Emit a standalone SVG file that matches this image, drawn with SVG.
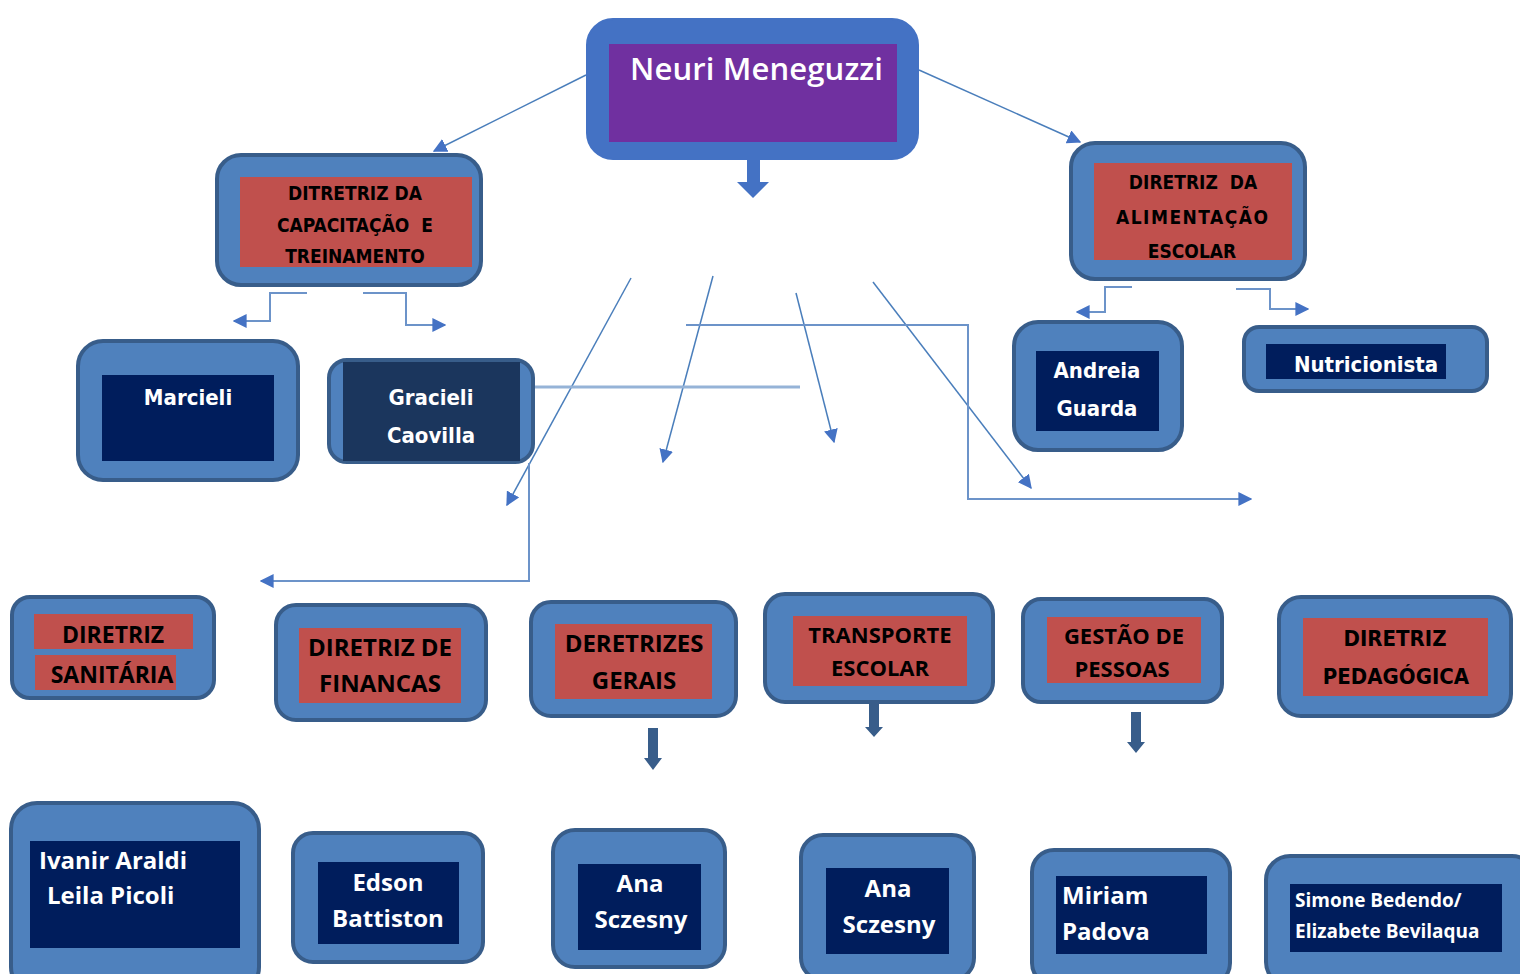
<svg xmlns="http://www.w3.org/2000/svg" width="1520" height="974" viewBox="0 0 1520 974">
<style>
.box{fill:#4f81bd;stroke:#385d8a;stroke-width:4}
.red{fill:#c0504d}
.navy{fill:#001d5c}
.ht{font-family:"DejaVu Sans Condensed","DejaVu Sans",sans-serif;font-weight:bold;fill:#000;text-anchor:middle}
.bt{font-family:"Open Sans","Noto Sans",sans-serif;font-weight:bold;fill:#000;text-anchor:middle}
.wt{font-family:"Open Sans","Noto Sans",sans-serif;font-weight:bold;fill:#fff}
.wc{font-family:"DejaVu Sans Condensed","DejaVu Sans",sans-serif;font-weight:bold;fill:#fff;text-anchor:middle}
.ln{fill:none;stroke:#4a7ebb;stroke-width:1.5}
.lt{fill:none;stroke:#95b3d7;stroke-width:3}
.lm{fill:none;stroke:#6c93c9;stroke-width:2}
</style>
<defs>
<marker id="ah2" viewBox="0 0 10 10" refX="9" refY="5" markerWidth="14" markerHeight="14" markerUnits="userSpaceOnUse" orient="auto">
<path d="M0,0 L10,5 L0,10 z" fill="#4472c4"/>
</marker>
</defs>

<g id="connectors">
<line class="ln" x1="586" y1="75" x2="434" y2="151" marker-end="url(#ah2)"/>
<line class="ln" x1="919" y1="70" x2="1080" y2="142" marker-end="url(#ah2)"/>
<path d="M747,160 H760 V182 H769 L753,198 L737,182 H747 Z" fill="#4472c4"/>
<polyline class="lm" points="307,293 270,293 270,321 234,321" marker-end="url(#ah2)"/>
<polyline class="lm" points="363,293 406,293 406,325 445,325" marker-end="url(#ah2)"/>
<polyline class="lm" points="1132,287 1105,287 1105,312 1077,312" marker-end="url(#ah2)"/>
<polyline class="lm" points="1236,289 1270,289 1270,309 1308,309" marker-end="url(#ah2)"/>
<line class="ln" x1="631" y1="278" x2="507" y2="505" marker-end="url(#ah2)"/>
<line class="ln" x1="713" y1="276" x2="663" y2="462" marker-end="url(#ah2)"/>
<line class="ln" x1="796" y1="293" x2="834" y2="442" marker-end="url(#ah2)"/>
<line class="ln" x1="873" y1="282" x2="1031" y2="488" marker-end="url(#ah2)"/>
<polyline class="lm" points="686,325 968,325 968,499 1251,499" marker-end="url(#ah2)"/>
<line class="lt" x1="534" y1="387" x2="800" y2="387"/>
<polyline class="lm" points="529,463 529,581 261,581" marker-end="url(#ah2)"/>
<path d="M648,728 H658 V758 H662 L653,770 L644,758 H648 Z" fill="#385d8a"/>
<path d="M869,697 H879 V727 H883 L874,737 L865,727 H869 Z" fill="#385d8a"/>
<path d="M1131,712 H1141 V742 H1145 L1136,753 L1127,742 H1131 Z" fill="#385d8a"/>
</g>

<g id="neuri">
<rect x="587" y="19" width="331" height="140" rx="26" fill="#4472c4" stroke="#4472c4" stroke-width="2"/>
<rect x="609" y="44" width="288" height="98" fill="#7030a0"/>
<text x="630" y="80" class="wt" style="font-weight:600" font-size="31" textLength="253">Neuri Meneguzzi</text>
</g>

<g id="capacitacao">
<rect class="box" x="217" y="155" width="264" height="130" rx="24"/>
<rect class="red" x="240" y="177" width="232" height="90"/>
<text class="ht" x="355" y="200" font-size="19">DITRETRIZ DA</text>
<text class="ht" x="355" y="232" font-size="19" xml:space="preserve">CAPACITAÇÃO  E</text>
<text class="ht" x="355" y="263" font-size="19">TREINAMENTO</text>
</g>

<g id="alimentacao">
<rect class="box" x="1071" y="143" width="234" height="136" rx="24"/>
<rect class="red" x="1094" y="163" width="198" height="97"/>
<text class="ht" x="1193" y="189" font-size="19" xml:space="preserve">DIRETRIZ  DA</text>
<text class="ht" x="1192" y="224" font-size="19" textLength="152">ALIMENTAÇÃO</text>
<text class="ht" x="1192" y="258" font-size="19">ESCOLAR</text>
</g>

<g id="marcieli">
<rect class="box" x="78" y="341" width="220" height="139" rx="25"/>
<rect class="navy" x="102" y="375" width="172" height="86"/>
<text class="wc" x="188" y="405" font-size="22">Marcieli</text>
</g>

<g id="gracieli">
<rect class="box" x="329" y="360" width="204" height="102" rx="18"/>
<rect x="343" y="362" width="177" height="99" fill="#1b365d"/>
<text class="wc" x="431" y="405" font-size="22">Gracieli</text>
<text class="wc" x="431" y="443" font-size="22">Caovilla</text>
</g>

<g id="andreia">
<rect class="box" x="1014" y="322" width="168" height="128" rx="24"/>
<rect class="navy" x="1036" y="351" width="123" height="80"/>
<text class="wc" x="1097" y="378" font-size="22">Andreia</text>
<text class="wc" x="1097" y="416" font-size="22">Guarda</text>
</g>

<g id="nutricionista">
<rect class="box" x="1244" y="327" width="243" height="64" rx="15"/>
<rect class="navy" x="1266" y="344" width="180" height="35"/>
<text class="wc" x="1366" y="372" font-size="22">Nutricionista</text>
</g>

<g id="sanitaria">
<rect class="box" x="12" y="597" width="202" height="101" rx="18"/>
<rect class="red" x="34" y="614" width="159" height="35"/>
<rect class="red" x="35" y="655" width="141" height="35"/>
<text class="bt" x="113" y="643" font-size="23">DIRETRIZ</text>
<text class="bt" x="112" y="683" font-size="23">SANITÁRIA</text>
</g>

<g id="financas">
<rect class="box" x="276" y="605" width="210" height="115" rx="20"/>
<rect class="red" x="299" y="628" width="162" height="75"/>
<text class="bt" x="380" y="656" font-size="24">DIRETRIZ DE</text>
<text class="bt" x="380" y="692" font-size="24">FINANCAS</text>
</g>

<g id="gerais">
<rect class="box" x="531" y="602" width="205" height="114" rx="20"/>
<rect class="red" x="555" y="624" width="157" height="75"/>
<text class="bt" x="634" y="652" font-size="24">DERETRIZES</text>
<text class="bt" x="634" y="689" font-size="24">GERAIS</text>
</g>

<g id="transporte">
<rect class="box" x="765" y="594" width="228" height="108" rx="20"/>
<rect class="red" x="793" y="616" width="174" height="70"/>
<text class="bt" x="880" y="643" font-size="22">TRANSPORTE</text>
<text class="bt" x="880" y="676" font-size="22">ESCOLAR</text>
</g>

<g id="pessoas">
<rect class="box" x="1023" y="599" width="199" height="103" rx="18"/>
<rect class="red" x="1047" y="617" width="154" height="66"/>
<text class="bt" x="1124" y="644" font-size="22">GESTÃO DE</text>
<text class="bt" x="1122" y="677" font-size="22">PESSOAS</text>
</g>

<g id="pedagogica">
<rect class="box" x="1279" y="597" width="232" height="119" rx="22"/>
<rect class="red" x="1303" y="618" width="185" height="78"/>
<text class="ht" x="1395" y="646" font-size="22">DIRETRIZ</text>
<text class="ht" x="1396" y="684" font-size="22">PEDAGÓGICA</text>
</g>

<g id="ivanir">
<rect class="box" x="11" y="803" width="248" height="190" rx="26"/>
<rect class="navy" x="30" y="841" width="210" height="107"/>
<text class="wt" x="39" y="869" font-size="24">Ivanir Araldi</text>
<text class="wt" x="47" y="904" font-size="24">Leila Picoli</text>
</g>

<g id="edson">
<rect class="box" x="293" y="833" width="190" height="129" rx="20"/>
<rect class="navy" x="318" y="862" width="141" height="82"/>
<text class="wt" x="388" y="891" font-size="24" text-anchor="middle">Edson</text>
<text class="wt" x="388" y="927" font-size="24" text-anchor="middle">Battiston</text>
</g>

<g id="ana1">
<rect class="box" x="553" y="830" width="172" height="137" rx="22"/>
<rect class="navy" x="578" y="864" width="123" height="86"/>
<text class="wt" x="640" y="892" font-size="24" text-anchor="middle">Ana</text>
<text class="wt" x="641" y="928" font-size="24" text-anchor="middle">Sczesny</text>
</g>

<g id="ana2">
<rect class="box" x="801" y="835" width="173" height="145" rx="22"/>
<rect class="navy" x="826" y="868" width="123" height="86"/>
<text class="wt" x="888" y="897" font-size="24" text-anchor="middle">Ana</text>
<text class="wt" x="889" y="933" font-size="24" text-anchor="middle">Sczesny</text>
</g>

<g id="miriam">
<rect class="box" x="1032" y="850" width="198" height="135" rx="22"/>
<rect class="navy" x="1056" y="876" width="151" height="78"/>
<text class="wt" x="1062" y="904" font-size="24">Miriam</text>
<text class="wt" x="1062" y="940" font-size="24">Padova</text>
</g>

<g id="simone">
<rect class="box" x="1266" y="856" width="270" height="130" rx="24"/>
<rect class="navy" x="1290" y="884" width="212" height="68"/>
<text class="wt" x="1295" y="907" font-size="19">Simone Bedendo/</text>
<text class="wt" x="1295" y="938" font-size="19">Elizabete Bevilaqua</text>
</g>
</svg>
